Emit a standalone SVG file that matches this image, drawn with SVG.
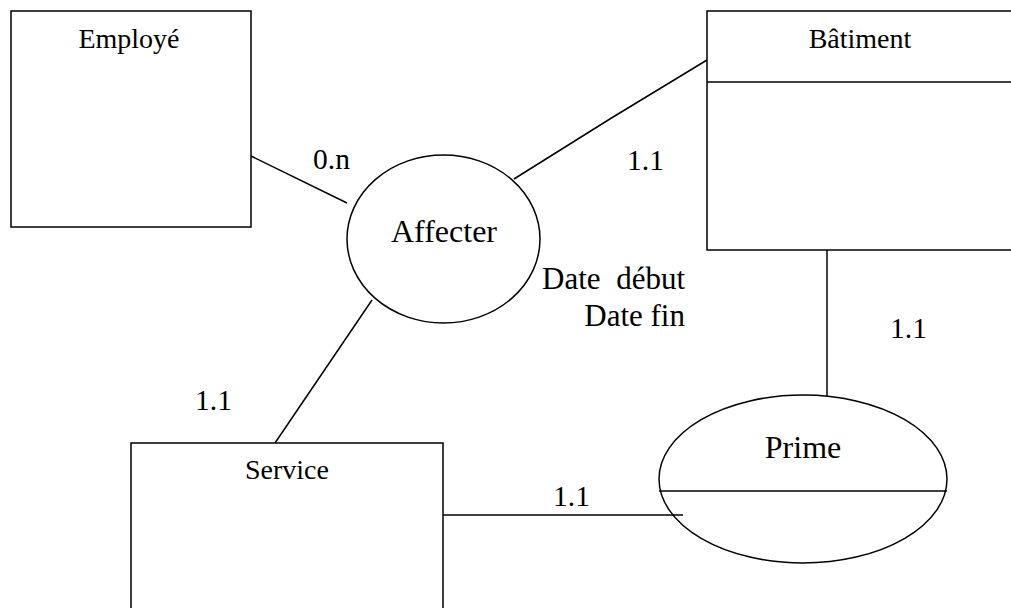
<svg xmlns="http://www.w3.org/2000/svg" width="1011" height="608" viewBox="0 0 1011 608" font-family="'Liberation Serif', 'DejaVu Serif', serif">
<style>
.s{fill:#fff;stroke:#000;stroke-width:1.5}
.e{fill:none;stroke:#000;stroke-width:1.5}
.l{fill:none;stroke:#000;stroke-width:1.5}
text{fill:#000}
.t{font-size:28px;text-anchor:middle}
.b{font-size:32px;text-anchor:middle}
.d{font-size:31px;text-anchor:end;white-space:pre}
.c{font-size:29.5px}
</style>
<rect width="1011" height="608" fill="#fff"/>
<g id="connectors">
<line class="l" x1="251" y1="156" x2="347" y2="203"/>
<path class="l" d="M707 60 Q610 118 514 179"/>
<line class="l" x1="372" y1="300" x2="275" y2="443"/>
<line class="l" x1="443" y1="515" x2="683" y2="515"/>
<line class="l" x1="827" y1="250" x2="827" y2="396"/>
</g>
<g id="employe">
<rect class="s" x="11" y="11" width="240" height="216"/>
<text class="t" x="129" y="48">Employé</text>
</g>
<g id="batiment">
<rect class="s" x="707" y="11" width="310" height="239"/>
<line class="l" x1="707" y1="82" x2="1017" y2="82"/>
<text class="t" x="860" y="48">Bâtiment</text>
</g>
<g id="affecter">
<ellipse class="e" cx="443.5" cy="239" rx="96.5" ry="84"/>
<text class="b" x="444" y="242">Affecter</text>
<text class="d" x="685" y="289">Date  début</text>
<text class="d" x="685" y="326">Date fin</text>
</g>
<g id="service">
<rect class="s" x="131" y="443" width="312" height="180"/>
<text class="t" x="287" y="479">Service</text>
</g>
<g id="prime">
<ellipse class="e" cx="803" cy="479" rx="144" ry="84"/>
<line class="l" x1="659" y1="491" x2="947" y2="491"/>
<text class="b" x="803" y="458">Prime</text>
</g>
<g id="labels">
<text class="c" x="313" y="169">0.n</text>
<text class="c" x="627" y="170">1.1</text>
<text class="c" x="195" y="410">1.1</text>
<text class="c" x="553" y="506">1.1</text>
<text class="c" x="890" y="338">1.1</text>
</g>
</svg>
